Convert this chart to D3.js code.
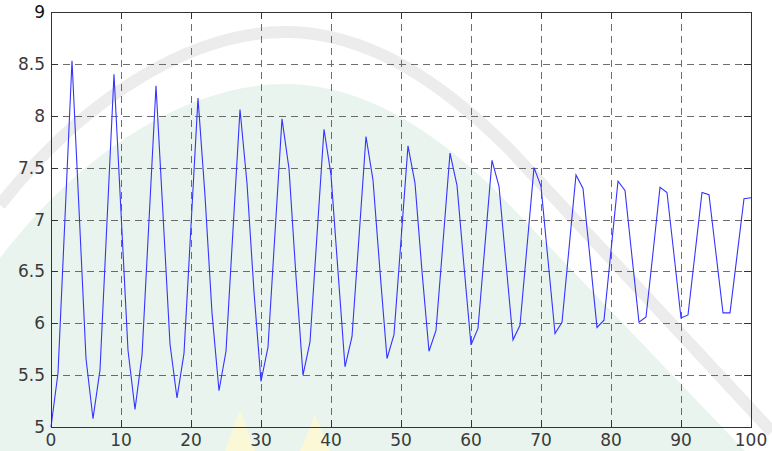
<!DOCTYPE html>
<html>
<head>
<meta charset="utf-8">
<script src="https://cdn.jsdelivr.net/npm/d3@7"></script>
<style>
  body { margin: 0; background: #fff; }
  svg { display: block; }
</style>
</head>
<body>
<div id="root"></div>
<script>
// sampled response, one value per step (step 0..100)
var signal = [
  5.00, 5.52, 7.02, 8.53, 7.10, 5.66, 5.08, 5.55, 6.98, 8.40,
  7.07, 5.74, 5.17, 5.69, 6.99, 8.29, 7.05, 5.80, 5.28, 5.71,
  6.94, 8.17, 7.23, 6.10, 5.35, 5.73, 6.90, 8.06, 7.35, 6.30,
  5.44, 5.77, 6.87, 7.97, 7.49, 6.45, 5.50, 5.82, 6.85, 7.87,
  7.43, 6.50, 5.58, 5.87, 6.83, 7.80, 7.38, 6.50, 5.66, 5.89,
  6.80, 7.71, 7.35, 6.50, 5.73, 5.93, 6.78, 7.64, 7.33, 6.55,
  5.79, 5.95, 6.76, 7.57, 7.32, 6.58, 5.84, 5.98, 6.74, 7.50,
  7.32, 6.61, 5.90, 6.01, 6.72, 7.43, 7.30, 6.63, 5.96, 6.03,
  6.70, 7.37, 7.28, 6.64, 6.01, 6.06, 6.68, 7.31, 7.26, 6.66,
  6.05, 6.08, 6.67, 7.26, 7.24, 6.67, 6.10, 6.10, 6.65, 7.20,
  7.21
];

var xTicks = [0, 10, 20, 30, 40, 50, 60, 70, 80, 90, 100];
var yTicks = [5, 5.5, 6, 6.5, 7, 7.5, 8, 8.5, 9];
var yTickLabels = ['5', '5.5', '6', '6.5', '7', '7.5', '8', '8.5', '9'];

var width = 772;
var height = 451;
var plotLeft = 51, plotRight = 751, plotTop = 12, plotBottom = 427;

var x = d3.scaleLinear().domain([0, 100]).range([plotLeft, plotRight]);
var y = d3.scaleLinear().domain([5, 9]).range([plotBottom, plotTop]);

var svg = d3.select('#root')
  .append('svg')
    .attr('width', width)
    .attr('height', height);

// faint watermark behind the chart
var wm = svg.append('g');
wm.append('path')
  .attr('d', 'M0,258 C90,140 200,82 290,84 C360,86 430,125 500,195 L745,451 L0,451 Z')
  .attr('fill', '#e9f4ef');
wm.append('path')
  .attr('d', 'M0,205 C90,90 200,30 290,32 C360,34 430,70 510,150 L772,432')
  .attr('fill', 'none')
  .attr('stroke', '#ececec')
  .attr('stroke-width', 12);
wm.append('path')
  .attr('d', 'M225,451 L240,410 L255,451 Z M300,451 L315,415 L330,451 Z')
  .attr('fill', '#fbf8d8');

// grid
var grid = svg.append('g')
  .attr('stroke', '#555')
  .attr('stroke-width', 1)
  .attr('stroke-dasharray', '7,5')
  .attr('opacity', 0.85);

grid.selectAll('line.v')
  .data(xTicks.slice(1, -1))
  .enter().append('line')
    .attr('class', 'v')
    .attr('x1', function(d) { return Math.round(x(d)) + 0.5; })
    .attr('x2', function(d) { return Math.round(x(d)) + 0.5; })
    .attr('y1', plotTop)
    .attr('y2', plotBottom);

grid.selectAll('line.h')
  .data(yTicks.slice(1, -1))
  .enter().append('line')
    .attr('class', 'h')
    .attr('y1', function(d) { return Math.round(y(d)) + 0.5; })
    .attr('y2', function(d) { return Math.round(y(d)) + 0.5; })
    .attr('x1', plotLeft)
    .attr('x2', plotRight);

// inner tick marks on all four sides
var ticks = svg.append('g').attr('stroke', '#333').attr('stroke-width', 1);
xTicks.forEach(function(d) {
  var px = Math.round(x(d)) + 0.5;
  ticks.append('line').attr('x1', px).attr('x2', px).attr('y1', plotBottom).attr('y2', plotBottom - 7);
  ticks.append('line').attr('x1', px).attr('x2', px).attr('y1', plotTop).attr('y2', plotTop + 7);
});
yTicks.forEach(function(d) {
  var py = Math.round(y(d)) + 0.5;
  ticks.append('line').attr('y1', py).attr('y2', py).attr('x1', plotLeft).attr('x2', plotLeft + 7);
  ticks.append('line').attr('y1', py).attr('y2', py).attr('x1', plotRight).attr('x2', plotRight - 7);
});

// data line
var line = d3.line()
  .x(function(d, i) { return x(i); })
  .y(function(d) { return y(d); });

svg.append('path')
  .datum(signal)
  .attr('d', line)
  .attr('fill', 'none')
  .attr('stroke', '#3434ff')
  .attr('stroke-width', 1.1);

// box
svg.append('rect')
  .attr('x', plotLeft + 0.5)
  .attr('y', plotTop + 0.5)
  .attr('width', plotRight - plotLeft)
  .attr('height', plotBottom - plotTop)
  .attr('fill', 'none')
  .attr('stroke', '#333')
  .attr('stroke-width', 1);

// tick labels
var font = '"DejaVu Sans", sans-serif';

svg.append('g').selectAll('text')
  .data(xTicks)
  .enter().append('text')
    .attr('x', function(d) { return x(d); })
    .attr('y', 446)
    .attr('text-anchor', 'middle')
    .attr('font-family', font)
    .attr('font-size', 17)
    .attr('fill', '#3a3a3a')
    .text(function(d) { return d; });

svg.append('g').selectAll('text')
  .data(yTicks)
  .enter().append('text')
    .attr('x', 45)
    .attr('y', function(d) { return y(d) + 6; })
    .attr('text-anchor', 'end')
    .attr('font-family', font)
    .attr('font-size', 17)
    .attr('fill', function(d) { return d === 9 ? '#111' : '#3a3a3a'; })
    .text(function(d, i) { return yTickLabels[i]; });
</script>
</body>
</html>
